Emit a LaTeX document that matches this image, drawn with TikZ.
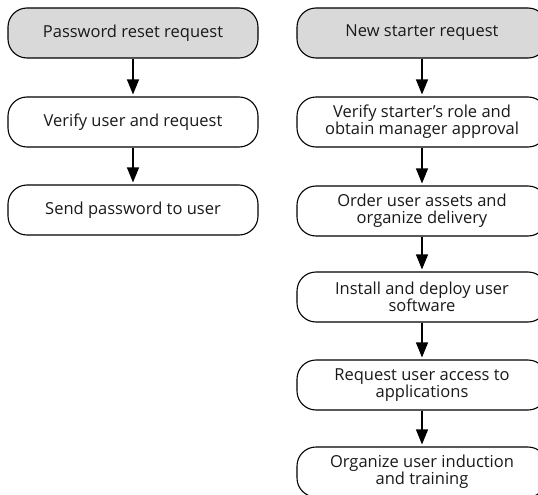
\documentclass[tikz,border=0pt]{standalone}
\usepackage{fontspec}
\setmainfont{Open Sans}
\usetikzlibrary{arrows.meta,positioning}
\begin{document}
\begin{tikzpicture}[x=1pt,y=-1pt,
  stepbox/.style={draw=black,line width=1.1pt,rounded corners=19pt,minimum width=250pt,minimum height=50pt,
    align=center,font=\fontsize{16.5}{17}\selectfont,inner sep=0pt,text=black!90},
  startbox/.style={stepbox,fill=black!15},
  flow/.style={line width=1.1pt,-{Triangle[width=12pt,length=15pt]},shorten >=2pt}]
\useasboundingbox (0,0) rectangle (538,495);
\clip (0,0) rectangle (538,495);
\node[startbox] (a1) at (133,33) {Password reset request};
\node[stepbox] (a2) at (133,122) {Verify user and request};
\node[stepbox] (a3) at (133,210) {Send password to user};
\node[startbox] (b1) at (422,33) {New starter request};
\node[stepbox] (b2) at (422,122) {Verify starter’s role and\\obtain manager approval};
\node[stepbox] (b3) at (422,211) {Order user assets and\\organize delivery};
\node[stepbox] (b4) at (422,297) {Install and deploy user\\software};
\node[stepbox] (b5) at (422,385) {Request user access to\\applications};
\node[stepbox] (b6) at (422,472) {Organize user induction\\and training};
\draw[flow] (a1) -- (a2);
\draw[flow] (a2) -- (a3);
\draw[flow] (b1) -- (b2);
\draw[flow] (b2) -- (b3);
\draw[flow] (b3) -- (b4);
\draw[flow] (b4) -- (b5);
\draw[flow] (b5) -- (b6);
\end{tikzpicture}
\end{document}
